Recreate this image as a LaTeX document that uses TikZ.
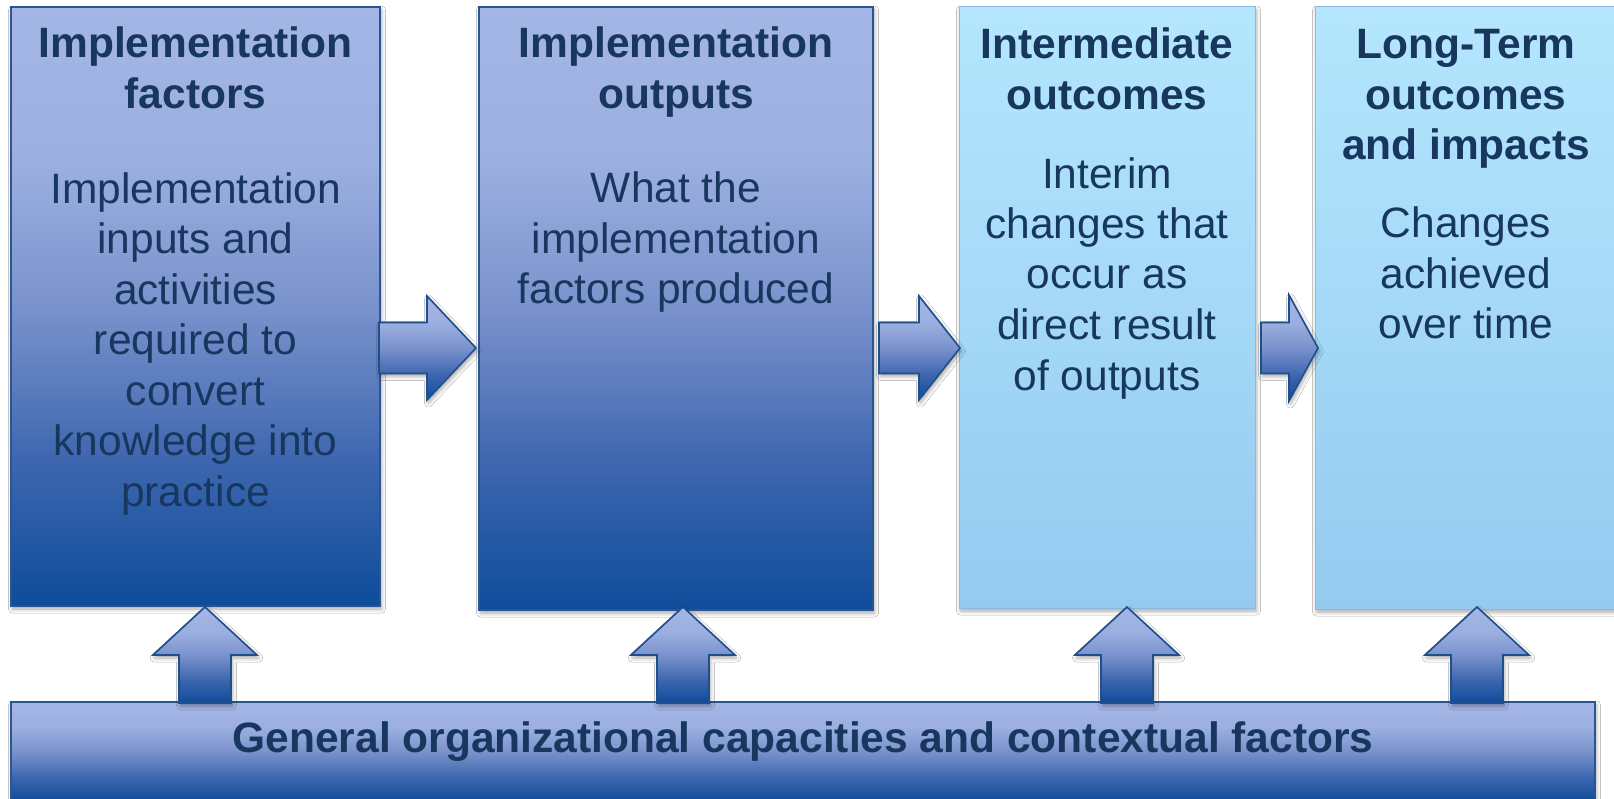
\documentclass[tikz,border=0pt]{standalone}
\usepackage{fontspec}
\setmainfont{Liberation Sans}
\usetikzlibrary{shadows.blur,calc}
\definecolor{txt}{HTML}{17375E}
\definecolor{dT}{HTML}{A4B6E6}
\definecolor{d1}{HTML}{9BAFE0}
\definecolor{d2}{HTML}{7A92CC}
\definecolor{d3}{HTML}{3D66AF}
\definecolor{dB}{HTML}{0E4C9A}
\definecolor{lT}{HTML}{B4E7FD}
\definecolor{lB}{HTML}{95CAF0}
\definecolor{dborder}{HTML}{2B5592}
\definecolor{lborder}{HTML}{8DB8E0}
\definecolor{aborder}{HTML}{1F4E8C}
\pgfdeclareverticalshading{darkgrad}{100bp}{color(0bp)=(dB); color(25bp)=(dB); color(37bp)=(d3); color(50bp)=(d2); color(62bp)=(d1); color(75bp)=(dT); color(100bp)=(dT)}
\pgfdeclareverticalshading{lightgrad}{100bp}{color(0bp)=(lB); color(25bp)=(lB); color(75bp)=(lT); color(100bp)=(lT)}
\begin{document}
\begin{tikzpicture}[x=1pt,y=-1pt,
  shd/.style={blur shadow={shadow xshift=1.5pt, shadow yshift=-3pt, shadow blur radius=4pt, shadow opacity=35}},
  darkbox/.style={rectangle, draw=dborder, line width=1.5pt, shading=darkgrad, inner sep=0pt, outer sep=0pt, anchor=north west, shd},
  lightbox/.style={rectangle, draw=lborder, line width=1pt, shading=lightgrad, inner sep=0pt, outer sep=0pt, anchor=north west, shd},
  arr/.style={draw=aborder, line width=1.6pt, line join=miter, shading=darkgrad, shd},
  ttl/.style={font=\fontsize{42.5}{50.5}\selectfont\bfseries, text=txt, align=center, inner sep=0pt, anchor=base},
  body/.style={font=\fontsize{42.5}{50.5}\selectfont, text=txt, align=center, inner sep=0pt, anchor=base}]
\useasboundingbox (0,0) rectangle (1614,799);
\fill[white] (0,0) rectangle (1614,799);
\clip (0,0) rectangle (1614,799);
% boxes
\node[darkbox, minimum width=369, minimum height=599] (b1) at (11,7) {};
\node[darkbox, minimum width=394, minimum height=603] (b2) at (479,7) {};
\node[lightbox, minimum width=296, minimum height=601] (b3) at (959,7) {};
\node[lightbox, minimum width=305, minimum height=602] (b4) at (1315,7) {};
\node[darkbox, minimum width=1584, minimum height=99] (bot) at (11,702) {};
% right arrows
\draw[arr] (379,322.5) -- (427,322.5) -- (427,296) -- (476,348) -- (427,400) -- (427,373.5) -- (379,373.5) -- cycle;
\draw[arr] (879,322.5) -- (919,322.5) -- (919,296) -- (960,348) -- (919,400) -- (919,373.5) -- (879,373.5) -- cycle;
\draw[arr] (1261,322.5) -- (1289,322.5) -- (1289,295) -- (1318,348) -- (1289,401) -- (1289,373.5) -- (1261,373.5) -- cycle;
% up arrows
\foreach \cx/\nm in {205/u1,683/u2,1127/u3,1477/u4}{
  \draw[arr] (\cx-26,703) -- (\cx-26,655) -- (\cx-52,655) -- (\cx,607) -- (\cx+52,655) -- (\cx+26,655) -- (\cx+26,703) -- cycle;
}
% texts (anchor = baseline of last line)
\node[ttl] (t1) at (195.5,108.5) {Implementation\\factors};
\node[body] (d1) at (195.5,506) {Implementation\\inputs and\\activities\\required to\\convert\\knowledge into\\practice};
\node[ttl] (t2) at (676,108.5) {Implementation\\outputs};
\node[body] (d2) at (676,304) {What the\\implementation\\factors produced};
\node[ttl] (t3) at (1107,109.5) {Intermediate\\outcomes};
\node[body] (d3) at (1107,390) {Interim\\changes that\\occur as\\direct result\\of outputs};
\node[ttl] (t4) at (1466,160) {Long-Term\\outcomes\\and impacts};
\node[body] (d4) at (1466,339) {Changes\\achieved\\over time};
\node[ttl] (tb) at (803,752) {General organizational capacities and contextual factors};
\end{tikzpicture}
\end{document}
